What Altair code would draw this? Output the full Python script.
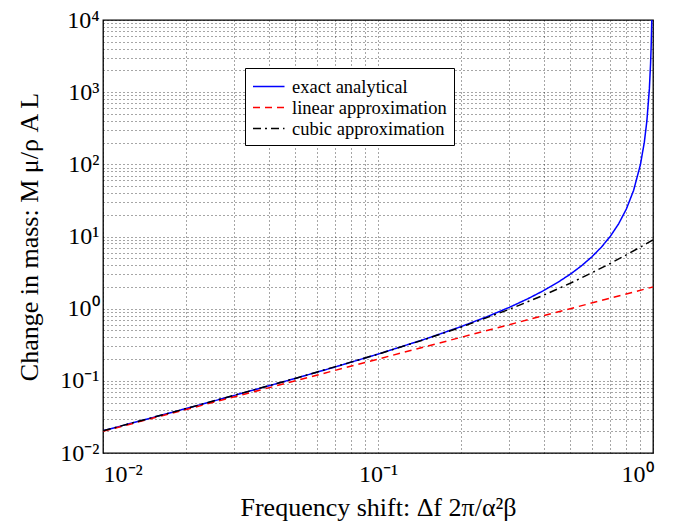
import altair as alt
import pandas as pd

# ---- data ----
exact_x = [0.01, 0.015, 0.02, 0.03, 0.05, 0.07, 0.1, 0.15, 0.2, 0.25, 0.3, 0.35,
           0.4, 0.45, 0.5, 0.55, 0.6, 0.65, 0.7, 0.75, 0.8, 0.85, 0.9, 0.93,
           0.95, 0.97, 0.98, 0.985, 0.99]
exact_y = [0.0203, 0.0307, 0.0412, 0.0628, 0.108, 0.156, 0.2346, 0.384, 0.5625,
           0.778, 1.041, 1.367, 1.778, 2.306, 3.0, 3.938, 5.25, 7.163, 10.11,
           15.0, 24.0, 43.44, 99.0, 203.1, 399.0, 1110.0, 2499.0, 4443.0, 9999.0]

linear_x = [0.01, 0.1, 1.0]
linear_y = [0.02, 0.2, 2.0]

cubic_x = [0.01, 0.02, 0.05, 0.1, 0.15, 0.2, 0.3, 0.4, 0.5, 0.6, 0.7, 0.8, 0.9, 1.0]
cubic_y = [0.0203, 0.0412, 0.108, 0.234, 0.381, 0.552, 0.978, 1.536, 2.25,
           3.144, 4.242, 5.568, 7.146, 9.0]

series_names = ["exact analytical", "linear approximation", "cubic approximation"]
series_colors = ["#0000ff", "#ff0000", "#000000"]
series_dash = [[1, 0], [7, 5], [8, 4, 2, 4]]

x_ticks = [0.01, 0.02, 0.03, 0.04, 0.05, 0.06, 0.07, 0.08, 0.09,
           0.1, 0.2, 0.3, 0.4, 0.5, 0.6, 0.7, 0.8, 0.9, 1.0]
y_ticks = [m * 10.0 ** e for e in range(-2, 4) for m in range(1, 10)] + [10000.0]
y_ticks = [float(f"{v:.6g}") for v in y_ticks]

x_labels = {0.01: "10⁻²", 0.1: "10⁻¹", 1.0: "10⁰"}
y_labels = {0.01: "10⁻²", 0.1: "10⁻¹", 1.0: "10⁰", 10.0: "10¹",
            100.0: "10²", 1000.0: "10³", 10000.0: "10⁴"}


def label_expr(mapping):
    expr = "''"
    for v, t in reversed(list(mapping.items())):
        expr = f"abs(datum.value - {v}) < {v} * 1e-6 ? '{t}' : ({expr})"
    return expr


rows = []
for xs, ys, name in [(exact_x, exact_y, series_names[0]),
                     (linear_x, linear_y, series_names[1]),
                     (cubic_x, cubic_y, series_names[2])]:
    for i, (a, b) in enumerate(zip(xs, ys)):
        rows.append({"x": a, "y": b, "series": name, "order": i})
df = pd.DataFrame(rows)

font = "Liberation Serif"

legend = alt.Legend(title=None, orient="none", legendX=142, legendY=48)

chart = alt.Chart(df).mark_line(strokeWidth=1.5, clip=True).encode(
    x=alt.X("x:Q",
            scale=alt.Scale(type="log", domain=[0.01, 1.0], nice=False),
            axis=alt.Axis(values=x_ticks, labelExpr=label_expr(x_labels),
                          title="Frequency shift: Δf 2π/α²β",
                          grid=True, ticks=False, labelPadding=9,
                          titlePadding=8)),
    y=alt.Y("y:Q",
            scale=alt.Scale(type="log", domain=[0.01, 10000.0], nice=False),
            axis=alt.Axis(values=y_ticks, labelExpr=label_expr(y_labels),
                          title="Change in mass: M μ/ρ A L",
                          grid=True, ticks=False, labelPadding=4,
                          titlePadding=17)),
    color=alt.Color("series:N",
                    scale=alt.Scale(domain=series_names, range=series_colors),
                    legend=legend),
    strokeDash=alt.StrokeDash("series:N",
                              scale=alt.Scale(domain=series_names, range=series_dash),
                              legend=legend),
    order="order:Q",
).properties(
    width=550, height=433,
    autosize=alt.AutoSizeParams(type="none"),
    padding={"left": 95, "top": 12, "right": 21, "bottom": 78},
).configure_view(
    stroke="#000000", strokeWidth=1.3
).configure_axis(
    labelFont=font, titleFont=font, labelFontSize=24, titleFontSize=26,
    labelColor="#000", titleColor="#000", titleFontWeight="normal",
    domain=False, gridColor="#000", gridOpacity=0.7, gridDash=[1, 3],
    gridWidth=1,
).configure_legend(
    labelFont=font, labelFontSize=18.5, labelColor="#000",
    symbolType="M-1,0H2", symbolSize=441, symbolStrokeWidth=1.5,
    strokeColor="#000", fillColor="#ffffff", padding=7, cornerRadius=0,
    rowPadding=0, labelOffset=17, labelLimit=300,
)

chart.save("out.html", embed_options={"renderer": "svg", "actions": False})
